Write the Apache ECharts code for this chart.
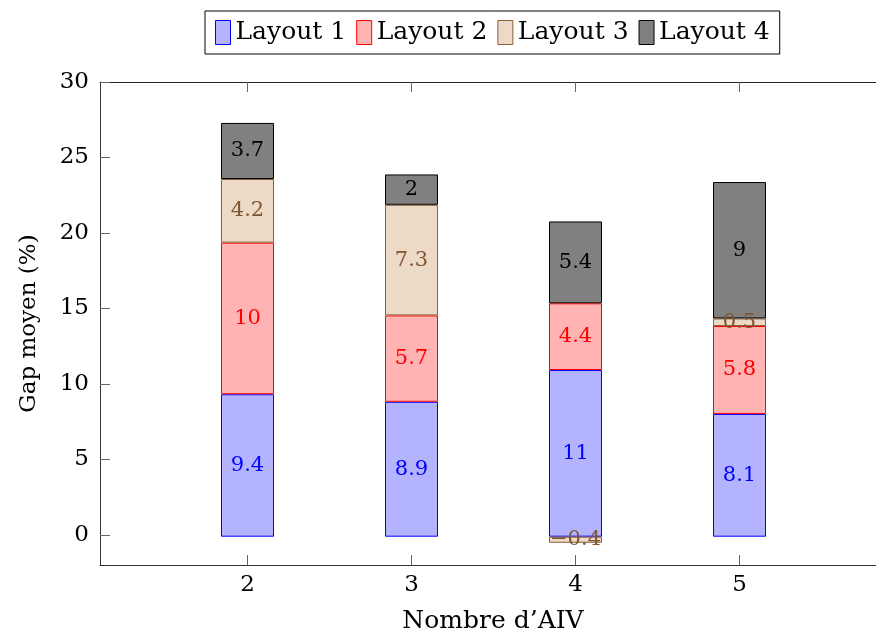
<!DOCTYPE html>
<html>
<head>
<meta charset="utf-8">
<script src="https://cdn.jsdelivr.net/npm/echarts@6/dist/echarts.min.js"></script>
<style>html,body{margin:0;padding:0;background:#fff}#c{width:876px;height:639px}</style>
</head>
<body>
<div id="c"></div>
<script>
const categories = ['2', '3', '4', '5'];
const xTicks = [2, 3, 4, 5];
const layout1 = [9.4, 8.9, 11, 8.1];
const layout2 = [10, 5.7, 4.4, 5.8];
const layout3 = [4.2, 7.3, -0.4, 0.5];
const layout4 = [3.7, 2, 5.4, 9];
const seriesNames = ['Layout 1', 'Layout 2', 'Layout 3', 'Layout 4'];
const yTicks = [0, 5, 10, 15, 20, 25, 30];

const FONT = 'DejaVu Serif';
const styles = [
  {fill: 'rgb(179,179,255)', stroke: 'rgb(0,0,255)', text: 'rgb(0,0,255)'},
  {fill: 'rgb(255,179,179)', stroke: 'rgb(255,0,0)', text: 'rgb(255,0,0)'},
  {fill: 'rgb(236,217,198)', stroke: 'rgb(140,95,55)', text: 'rgb(128,85,50)'},
  {fill: 'rgb(128,128,128)', stroke: 'rgb(0,0,0)', text: 'rgb(0,0,0)'}
];
const values = [layout1, layout2, layout3, layout4];

const chart = echarts.init(document.getElementById('c'), null, {renderer: 'canvas'});
const fmt = v => String(v).replace('-', '\u2212');

const TOP = 82, H = 485;
chart.setOption({
  animation: false,
  textStyle: {fontFamily: FONT},
  legend: {
    left: 205, top: 11,
    padding: [9, 10, 9, 10],
    borderColor: '#000', borderWidth: 1,
    itemWidth: 15, itemHeight: 24, itemGap: 10,
    icon: 'rect',
    textStyle: {fontFamily: FONT, fontSize: 25, color: '#000'},
    data: seriesNames.map((n, i) => ({name: n, itemStyle: {color: styles[i].fill, borderColor: styles[i].stroke, borderWidth: 1}}))
  },
  grid: [
    {left: 100, top: TOP, right: 0, height: H},
    {left: 165.5, top: TOP, width: 656, height: H}
  ],
  xAxis: [{
    gridIndex: 0, type: 'value', min: 1.1, max: 5.832, position: 'bottom',
    name: "Nombre d\u2019AIV", nameLocation: 'middle', nameGap: 44,
    nameTextStyle: {fontFamily: FONT, fontSize: 25, color: '#000', padding: [0, 0, 0, 10]},
    axisLine: {show: true, onZero: false, lineStyle: {color: '#333', width: 1}},
    axisTick: {show: true, inside: true, length: 10, customValues: xTicks, lineStyle: {color: '#666'}},
    axisLabel: {customValues: xTicks, fontFamily: FONT, fontSize: 23, color: '#000', margin: 9},
    splitLine: {show: false}
  }, {
    gridIndex: 0, type: 'value', min: 1.1, max: 5.832, position: 'top',
    axisLine: {show: true, onZero: false, lineStyle: {color: '#222', width: 1}},
    axisTick: {show: true, inside: true, length: 10, customValues: xTicks, lineStyle: {color: '#666'}},
    axisLabel: {show: false},
    splitLine: {show: false}
  }, {
    gridIndex: 1, type: 'category', data: categories, boundaryGap: true,
    axisLine: {show: false}, axisTick: {show: false}, axisLabel: {show: false}, splitLine: {show: false}
  }],
  yAxis: [{
    gridIndex: 0, type: 'value', min: -2, max: 30,
    name: 'Gap moyen (%)', nameLocation: 'middle', nameGap: 59,
    nameTextStyle: {fontFamily: FONT, fontSize: 23, color: '#000'},
    axisLine: {show: true, onZero: false, lineStyle: {color: '#333', width: 1}},
    axisTick: {show: true, inside: true, length: 10, customValues: yTicks, lineStyle: {color: '#666'}},
    axisLabel: {customValues: yTicks, fontFamily: FONT, fontSize: 23, color: '#000', margin: 11},
    splitLine: {show: false}
  }, {
    gridIndex: 1, type: 'value', min: -2, max: 30,
    axisLine: {show: false}, axisTick: {show: false}, axisLabel: {show: false}, splitLine: {show: false}
  }],
  series: seriesNames.map((n, i) => ({
    name: n, type: 'bar', stack: 'total', xAxisIndex: 2, yAxisIndex: 1,
    barWidth: 53,
    data: values[i],
    itemStyle: {color: styles[i].fill, borderColor: styles[i].stroke, borderWidth: 1},
    label: {
      show: true, position: 'inside', color: styles[i].text,
      fontFamily: FONT, fontSize: 21,
      formatter: p => fmt(p.value)
    }
  }))
});
</script>
</body>
</html>
